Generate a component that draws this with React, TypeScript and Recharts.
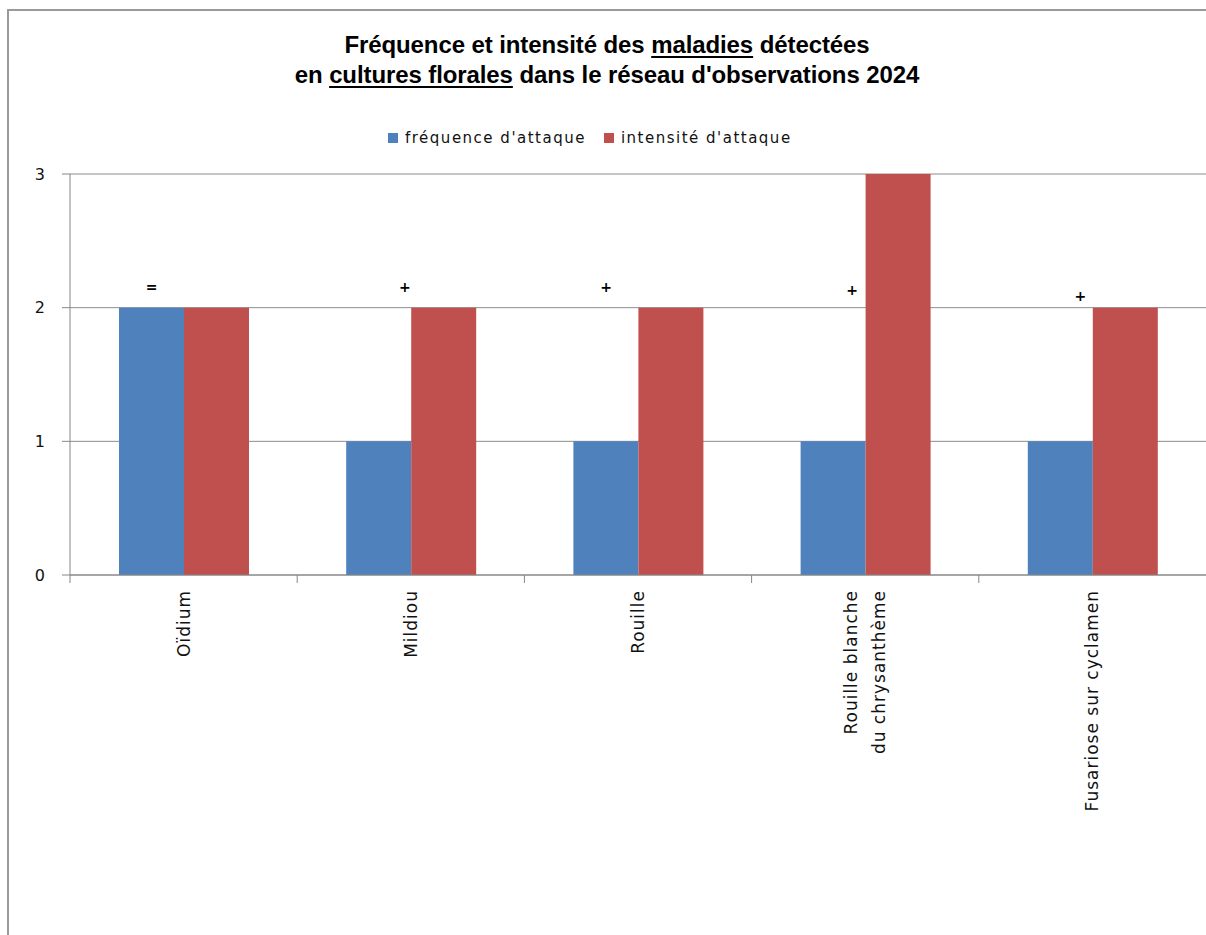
import { BarChart, Bar, XAxis, YAxis, CartesianGrid, Legend, ReferenceDot } from "recharts"

const categories = [
  "Oïdium",
  "Mildiou",
  "Rouille",
  "Rouille blanche\ndu chrysanthème",
  "Fusariose sur cyclamen",
]
const frequence = [2, 1, 1, 1, 1]
const intensite = [2, 2, 2, 3, 2]
const tendances = ["=", "+", "+", "+", "+"]
const yTicks = [0, 1, 2, 3]

const data = categories.map((name, i) => ({
  name,
  frequence: frequence[i],
  intensite: intensite[i],
}))

const CHART_W = 1198
const CHART_H = 927
const YAXIS_W = 62
const BAND = (CHART_W - YAXIS_W) / categories.length
const AXIS_GREY = "#868686"

// the trend marks were hand-placed text boxes: nudge (px) from category centre / the "2" line
const trendNudge = [
  [-32, -21],
  [-6, -21],
  [-32, -21],
  [-13, -18],
  [-12, -12],
]

function CategoryTick(props: any) {
  const { x, y, payload } = props
  const lines = String(payload.value).split("\n")
  const lh = 28
  return (
    <g transform={`translate(${x},${y})`}>
      <line x1={-BAND / 2} x2={-BAND / 2} y1={-8} y2={0} stroke={AXIS_GREY} />
      <text
        transform="rotate(-90)"
        textAnchor="end"
        fontFamily="DejaVu Sans"
        fontSize={17}
        letterSpacing={1}
        fill="#111"
      >
        {lines.map((l, i) => (
          <tspan key={i} x={-7} y={(i - (lines.length - 1) / 2) * lh + 6}>
            {l}
          </tspan>
        ))}
      </text>
    </g>
  )
}

function LegendContent(props: any) {
  const items = props.payload || []
  return (
    <div
      style={{
        display: "flex",
        alignItems: "center",
        height: 20,
        fontFamily: "DejaVu Sans",
        fontSize: 15,
        letterSpacing: 1.5,
        color: "#111",
        whiteSpace: "nowrap",
      }}
    >
      {items.map((item: any) => (
        <span key={item.value} style={{ display: "flex", alignItems: "center", marginRight: 18 }}>
          <span
            style={{ width: 10, height: 10, background: item.color, marginRight: 7, display: "inline-block" }}
          />
          {item.value}
        </span>
      ))}
    </div>
  )
}

function TrendLabel(text: string, dx: number, dy: number) {
  return (props: any) => {
    const vb = props.viewBox
    const cx = vb.x + vb.width / 2
    const cy = vb.y + vb.height / 2
    return (
      <text
        x={cx + dx}
        y={cy + dy}
        textAnchor="middle"
        dominantBaseline="central"
        fontFamily="DejaVu Sans"
        fontWeight="bold"
        fontSize={14}
        fill="#000"
      >
        {text}
      </text>
    )
  }
}

export default function App() {
  return (
    <div style={{ position: "fixed", left: 0, top: 0, width: 1206, height: 935, background: "#fff", overflow: "hidden" }}>
      <div style={{ position: "absolute", left: 7, top: 9, width: 2, height: 926, background: "#9a9a9a" }} />
      <div style={{ position: "absolute", left: 8, top: 9, width: 1198, height: 2, background: "#9a9a9a" }} />
      <div
        style={{
          position: "absolute",
          left: 8,
          top: 30,
          width: CHART_W,
          textAlign: "center",
          fontFamily: "Liberation Sans",
          fontWeight: "bold",
          fontSize: 24,
          lineHeight: "30px",
          letterSpacing: -0.1,
          color: "#000",
        }}
      >
        Fréquence et intensité des{" "}
        <span style={{ textDecoration: "underline", textDecorationThickness: 2, textUnderlineOffset: 3 }}>maladies</span>{" "}
        détectées
        <br />
        en{" "}
        <span style={{ textDecoration: "underline", textDecorationThickness: 2, textUnderlineOffset: 3 }}>
          cultures florales
        </span>{" "}
        dans le réseau d'observations 2024
      </div>
      <div style={{ position: "absolute", left: 8, top: 8 }}>
        <BarChart
          width={CHART_W}
          height={CHART_H}
          data={data}
          margin={{ top: 146, right: 0, bottom: 60, left: 0 }}
          barGap={0}
        >
          <CartesianGrid vertical={false} stroke="#8c8c8c" />
          <XAxis
            dataKey="name"
            height={300}
            interval={0}
            tickLine={false}
            tickSize={8}
            tickMargin={0}
            axisLine={{ stroke: AXIS_GREY }}
            tick={<CategoryTick />}
          />
          <YAxis
            domain={[0, 3]}
            ticks={yTicks}
            interval={0}
            width={YAXIS_W}
            tickSize={8}
            tickMargin={17}
            axisLine={{ stroke: AXIS_GREY }}
            tickLine={{ stroke: AXIS_GREY }}
            tick={{ fill: "#111", fontSize: 16, fontFamily: "DejaVu Sans" }}
          />
          <Legend
            verticalAlign="top"
            content={<LegendContent />}
            wrapperStyle={{ top: 120, left: 380, width: "auto" }}
          />
          <Bar dataKey="frequence" name="fréquence d'attaque" fill="#4F81BD" barSize={65} isAnimationActive={false} />
          <Bar dataKey="intensite" name="intensité d'attaque" fill="#C0504D" barSize={65} isAnimationActive={false} />
          {categories.map((c, i) => (
            <ReferenceDot
              key={c}
              x={c}
              y={2}
              r={1}
              fill="none"
              stroke="none"
              label={TrendLabel(tendances[i], trendNudge[i][0], trendNudge[i][1])}
            />
          ))}
        </BarChart>
      </div>
    </div>
  )
}
